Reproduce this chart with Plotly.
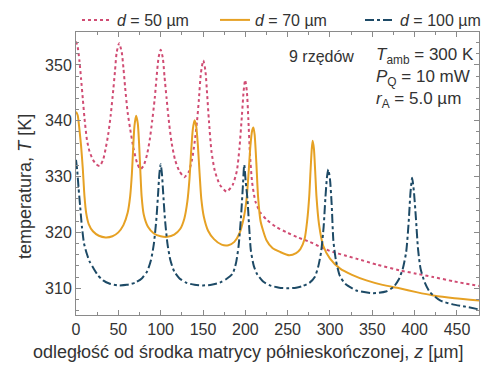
import plotly.graph_objects as go

# d = 50 um (pink dotted)
z50 = [0, 2, 4, 6, 8, 10, 13, 16, 20, 24, 28, 32, 35, 38, 41, 44, 46, 48, 51, 54, 56, 58, 61, 64, 68, 72, 76,
       80, 84, 87, 90, 93, 95, 97.5, 100, 102.5, 104.5, 107, 110, 113, 117, 122, 128, 133, 137, 140, 143, 145,
       147.5, 150.3, 152.8, 155, 157, 160, 164, 170, 178, 185, 190, 193, 196, 198, 199.8, 201.8, 203.5, 205.5,
       208, 212, 218, 225, 236, 249, 262, 276, 290, 303, 317, 331, 356, 382, 402, 422, 447, 476]
T50 = [354.2, 353.2, 350.8, 347.5, 344.0, 340.5, 336.5, 334.5, 333.0, 332.2, 331.9, 333.0, 335.0, 337.5, 341.0,
       345.5, 348.8, 352.2, 353.9, 352.3, 349.5, 346.0, 341.5, 338.5, 335.0, 332.5, 331.3,
       332.0, 334.0, 336.5, 340.0, 344.0, 347.5, 351.3, 352.7, 351.3, 348.0, 344.0, 339.5, 336.0, 333.0, 331.0,
       329.9, 330.8, 333.0, 336.0, 340.0, 343.5,
       348.5, 350.8, 349.0, 344.5, 340.0, 334.5, 331.0, 328.5, 327.3, 328.5, 331.0, 335.0, 341.0, 345.3, 347.3,
       345.3, 340.5, 334.0,
       329.0, 325.5, 323.5, 322.3, 321.0, 320.0, 319.1, 318.3, 317.3, 316.5, 315.9, 315.3, 314.2, 313.2, 312.6,
       312.0, 311.2, 310.4]

# d = 70 um (orange solid)
z70 = [0, 2, 4, 6, 8, 10, 12, 15, 20, 27, 35, 43, 50, 56, 61, 64, 66, 67.5, 69, 71, 73, 74.5, 76, 77.5, 80, 85,
       92, 100, 108, 116, 123, 128, 131.5, 134, 136, 138, 140, 142, 144, 146, 148, 151, 156, 163, 172, 180, 187,
       193, 198, 201.5, 204, 206, 208, 209.5, 211, 213, 215, 218, 225, 232, 241, 252, 260, 265, 270, 273, 275.5,
       277, 278.5, 279.5, 281, 282.5, 284, 287, 292, 300, 312, 326, 343, 362, 382, 402, 422, 447, 476]
T70 = [341.6, 341.0, 338.5, 335.5, 331.5, 326.5, 323.5, 321.5, 320.2, 319.4, 319.1, 319.3, 320.0, 321.3, 323.5,
       326.5, 330.5, 335.0, 339.0, 340.9, 339.5, 336.0, 331.0, 326.5, 323.2, 321.0,
       319.8, 319.3, 319.2, 319.6, 320.6, 322.5, 325.5, 329.5, 334.5, 338.5, 340.1, 339.0, 335.5, 330.5, 326.0,
       322.8, 320.3, 318.8, 317.8, 317.7, 318.3,
       319.8, 322.5, 326.0, 331.0, 335.5, 338.2, 338.8, 337.5, 332.5, 326.5, 322.0, 318.6, 317.2, 316.5, 315.9,
       316.3, 317.0, 318.8, 322.0, 326.5,
       331.0, 335.0, 336.4, 335.0, 331.0, 326.5, 321.5, 317.6, 315.3, 313.5, 312.4, 311.4, 310.6, 310.0, 309.3,
       308.7, 308.2, 307.8]

# d = 100 um (navy dash-dot)
z100 = [0, 1.5, 3, 5, 7, 9.5, 12.5, 16, 20.5, 26, 32, 40, 50, 60, 70, 78, 84, 88.5, 92, 95, 97, 98.5, 100, 101.5,
        103, 105, 108, 111.5, 116, 122, 130, 140, 150, 160, 170, 178, 185, 189, 192, 195, 197, 198.7, 200.5,
        202.5, 204.5, 206.5, 210, 214, 221, 229, 240, 249, 260, 268, 276, 282, 286, 289.5, 292.5, 294.5, 296.5,
        298, 300, 302, 304, 307, 311.7, 318, 331, 351, 366, 375, 381, 386, 390, 393, 395, 397, 399, 401.5, 404,
        407, 412, 418, 430, 445, 460, 476]
T100 = [333.0, 331.0, 328.0, 324.5, 321.0, 318.0, 316.3, 314.8, 313.6, 312.3, 311.4, 310.8, 310.5, 310.6, 311.0,
        311.8, 313.0, 315.0, 318.0, 322.5, 327.0, 330.5, 332.2, 330.5,
        327.0, 322.5, 318.0, 315.0, 313.0, 311.8, 311.0, 310.6, 310.5, 310.6, 311.0, 311.7, 312.6, 314.5, 317.5,
        323.0, 328.0, 332.1, 329.0,
        326.0, 321.0, 316.8, 314.0, 312.5, 311.2, 310.5, 310.1, 310.0, 310.1, 310.4, 311.0, 312.0, 313.8, 316.5,
        321.0, 326.0, 330.0,
        331.3, 329.5, 325.0, 318.5, 315.0, 312.2, 310.8, 309.6, 309.1, 309.4, 310.2, 311.5, 313.5, 316.5, 322.0,
        327.0, 329.8, 327.5, 322.5, 317.0,
        313.5, 311.0, 309.3, 307.8, 307.1, 306.7, 306.2]

names = ["<i>d</i> = 50 µm", "<i>d</i> = 70 µm", "<i>d</i> = 100 µm"]
x_ticks = [0, 50, 100, 150, 200, 250, 300, 350, 400, 450]
y_ticks = [310, 320, 330, 340, 350]

FONT = "Liberation Sans, Arial, sans-serif"
TXT = "#333333"

fig = go.Figure()
fig.add_trace(go.Scatter(x=z50, y=T50, mode="lines", name=names[0], legend="legend",
                         line=dict(color="#d04c73", width=2, dash="dot", shape="spline", smoothing=0.6)))
fig.add_trace(go.Scatter(x=z70, y=T70, mode="lines", name=names[1], legend="legend2",
                         line=dict(color="#e6a124", width=2, shape="spline", smoothing=0.6)))
fig.add_trace(go.Scatter(x=z100, y=T100, mode="lines", name=names[2], legend="legend3",
                         line=dict(color="#1d4a66", width=2, dash="dashdot", shape="spline", smoothing=0.6)))

axis_common = dict(showline=True, linecolor="#8a8a8a", linewidth=1, mirror="ticks", ticks="inside",
                   tickcolor="#8a8a8a", ticklen=5, showgrid=False, zeroline=False,
                   tickfont=dict(family=FONT, size=16, color=TXT))

fig.update_xaxes(range=[0, 476], tickvals=x_ticks,
                 minor=dict(ticks="inside", ticklen=3, dtick=25, tick0=0, tickcolor="#8a8a8a"),
                 **axis_common)
fig.update_yaxes(range=[305.2, 355.9], tickvals=y_ticks,
                 minor=dict(ticks="inside", ticklen=3, dtick=2, tick0=300, tickcolor="#8a8a8a"),
                 **axis_common)

# axis titles (positioned as in the reference)
fig.add_annotation(xref="paper", yref="paper", x=0.428, y=-0.1307, xanchor="center", yanchor="middle",
                   text="odległość od środka matrycy półnieskończonej, <i>z</i> [µm]", showarrow=False,
                   font=dict(family=FONT, size=18, color=TXT))
fig.add_annotation(xref="paper", yref="paper", x=-0.1266, y=0.456, xanchor="center", yanchor="middle",
                   text="temperatura, <i>T</i> [K]", showarrow=False, textangle=-90,
                   font=dict(family=FONT, size=18, color=TXT))

ann_font = dict(family=FONT, size=16, color=TXT)
ann_font2 = dict(family=FONT, size=17, color=TXT)
fig.add_annotation(xref="paper", yref="paper", x=0.5236, y=0.914, xanchor="left", yanchor="middle",
                   text="9 rzędów", showarrow=False, font=ann_font)
fig.add_annotation(xref="paper", yref="paper", x=0.74, y=0.914, xanchor="left", yanchor="middle",
                   text="<i>T</i><sub>amb</sub> = 300 K", showarrow=False, font=ann_font2)
fig.add_annotation(xref="paper", yref="paper", x=0.74, y=0.836, xanchor="left", yanchor="middle",
                   text="<i>P</i><sub>Q</sub> = 10 mW", showarrow=False, font=ann_font2)
fig.add_annotation(xref="paper", yref="paper", x=0.74, y=0.758, xanchor="left", yanchor="middle",
                   text="<i>r</i><sub>A</sub> = 5.0 µm", showarrow=False, font=ann_font2)

leg_common = dict(orientation="h", xanchor="left", xref="container", yref="container",
                  y=1 - 20 / 372, yanchor="middle",
                  font=dict(family=FONT, size=16, color=TXT), bgcolor="rgba(0,0,0,0)", itemwidth=30)

fig.update_layout(
    width=497, height=372,
    margin=dict(l=76, r=18, t=32, b=57, autoexpand=False),
    paper_bgcolor="white", plot_bgcolor="white",
    font=dict(family=FONT, size=16, color=TXT),
    legend=dict(x=77 / 497, **leg_common),
    legend2=dict(x=215 / 497, **leg_common),
    legend3=dict(x=360 / 497, **leg_common),
    showlegend=True,
)

fig.write_html("out.html")
